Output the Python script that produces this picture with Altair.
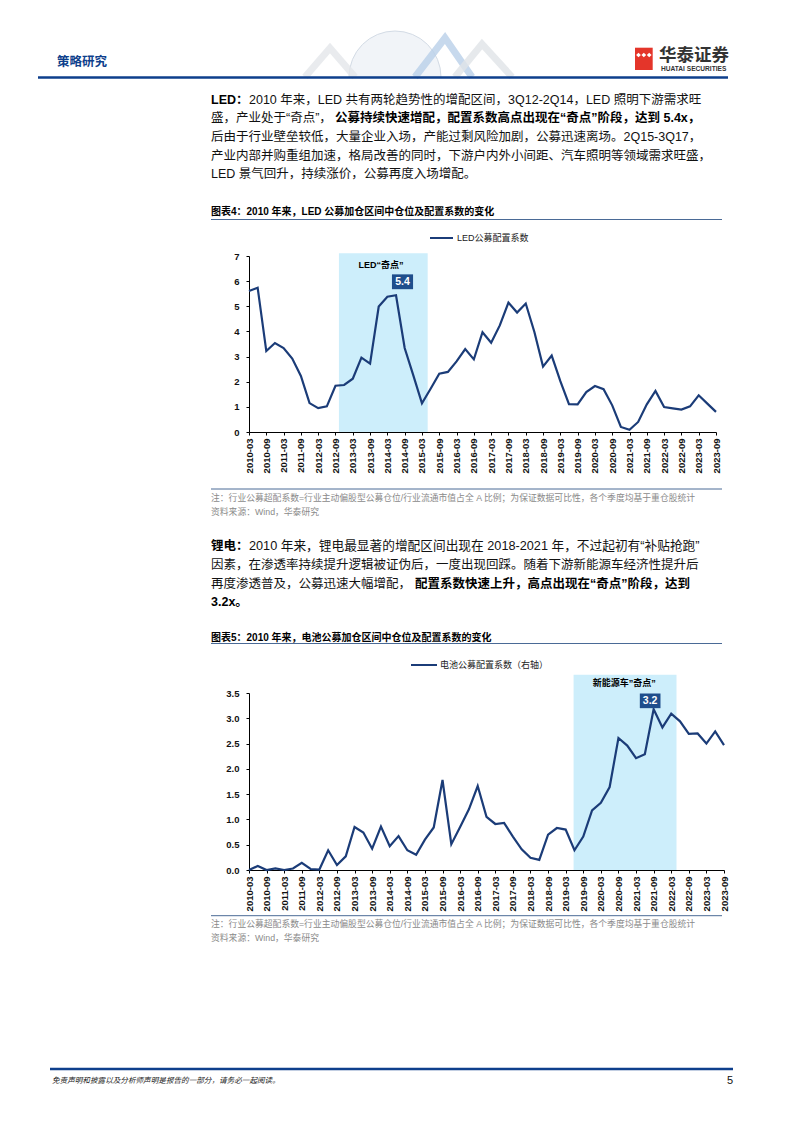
import altair as alt
import pandas as pd

# ---------------- data ----------------
quarters = [f"{y}-{m}" for y in range(2010, 2024) for m in ("03", "06", "09", "12")][:55]

led_values = [5.61, 5.74, 3.22, 3.54, 3.34, 2.92, 2.23, 1.15, 0.95, 1.02,
              1.84, 1.87, 2.12, 2.96, 2.72, 4.99, 5.38, 5.44, 3.34, 2.25,
              1.14, 1.72, 2.32, 2.39, 2.81, 3.30, 2.89, 3.97, 3.55, 4.24,
              5.15, 4.75, 5.11, 3.98, 2.60, 3.04, 2.02, 1.11, 1.10, 1.59,
              1.83, 1.70, 1.06, 0.20, 0.09, 0.40, 1.10, 1.63, 0.99, 0.94,
              0.89, 1.02, 1.46, 1.13, 0.80]

battery_values = [0.00, 0.08, 0.00, 0.03, 0.00, 0.03, 0.14, 0.02, 0.01, 0.39,
                  0.10, 0.27, 0.85, 0.74, 0.42, 0.86, 0.47, 0.67, 0.39, 0.30,
                  0.60, 0.84, 1.78, 0.51, 0.85, 1.20, 1.66, 1.05, 0.91, 0.93,
                  0.66, 0.41, 0.24, 0.20, 0.70, 0.83, 0.80, 0.39, 0.66, 1.18,
                  1.33, 1.64, 2.61, 2.46, 2.21, 2.29, 3.18, 2.82, 3.09, 2.94,
                  2.69, 2.70, 2.50, 2.74, 2.47]

led_tick_values = [0, 1, 2, 3, 4, 5, 6, 7]
bat_tick_values = [0, 0.5, 1.0, 1.5, 2.0, 2.5, 3.0, 3.5]

# shaded "奇点" periods (quarter index range) and their captions
led_band = [10.4, 20.66]
bat_band = [36.9, 48.6]
led_band_caption = "LED“奇点”"
bat_band_caption = "新能源车”奇点”"
led_peak_label = "5.4"
bat_peak_label = "3.2"

# ---------------- page text ----------------
header_title = "策略研究"
logo_cn = "华泰证券"
logo_en = "HUATAI SECURITIES"

p1_l1_bold = "LED："
p1_l1 = "2010 年来，LED 共有两轮趋势性的增配区间，3Q12-2Q14，LED 照明下游需求旺"
p1_l2 = "盛，产业处于“奇点”，"
p1_l2_bold = "公募持续快速增配，配置系数高点出现在“奇点”阶段，达到 5.4x，"
p1_l3 = "后由于行业壁垒较低，大量企业入场，产能过剩风险加剧，公募迅速离场。2Q15-3Q17，"
p1_l4 = "产业内部并购重组加速，格局改善的同时，下游户内外小间距、汽车照明等领域需求旺盛，"
p1_l5 = "LED 景气回升，持续涨价，公募再度入场增配。"

fig4_title = "图表4：2010 年来，LED 公募加仓区间中仓位及配置系数的变化"
fig4_legend = "LED公募配置系数"
note1 = "注：行业公募超配系数=行业主动偏股型公募仓位/行业流通市值占全 A 比例；为保证数据可比性，各个季度均基于重仓股统计"
note2 = "资料来源：Wind，华泰研究"

p2_l1_bold = "锂电："
p2_l1 = "2010 年来，锂电最显著的增配区间出现在 2018-2021 年，不过起初有“补贴抢跑”"
p2_l2 = "因素，在渗透率持续提升逻辑被证伪后，一度出现回踩。随着下游新能源车经济性提升后"
p2_l3 = "再度渗透普及，公募迅速大幅增配，"
p2_l3_bold = "配置系数快速上升，高点出现在“奇点”阶段，达到"
p2_l4_bold = "3.2x。"

fig5_title = "图表5：2010 年来，电池公募加仓区间中仓位及配置系数的变化"
fig5_legend = "电池公募配置系数（右轴）"

footer_text = "免责声明和披露以及分析师声明是报告的一部分，请务必一起阅读。"
page_no = "5"

# ---------------- styling / layout ----------------
OX, OY = 249, 8          # page position of the first row's origin
FONT = "Liberation Sans, Noto Sans CJK SC"
NAVY = "#1B3C78"
BAND = "#CDEEFB"
BOX = "#1F4E8C"
HEAD_BLUE = "#0E3F8C"
RULE_GRAY = "#4A6A96"
NOTE_GRAY = "#8A8A8A"
TXT = "#111111"


def text_layer(rows, weight="normal", style="normal", align="left"):
    df = pd.DataFrame(rows, columns=["text", "x", "y", "size", "color"])
    df["x"] = df["x"] - OX
    df["y"] = df["y"] - OY
    return alt.Chart(df).mark_text(
        align=align, baseline="middle", fontWeight=weight, fontStyle=style, font=FONT
    ).encode(
        x=alt.X("x:Q", scale=None),
        y=alt.Y("y:Q", scale=None),
        text="text:N",
        size=alt.Size("size:Q", scale=None, legend=None),
        color=alt.Color("color:N", scale=None, legend=None),
    )


normal_rows = [
    (p1_l1, 249, 100, 12.5, TXT),
    (p1_l2, 211, 118, 12.5, TXT),
    (p1_l3, 211, 137, 12.5, TXT),
    (p1_l4, 211, 155.5, 12.5, TXT),
    (p1_l5, 211, 174, 12.5, TXT),
    (fig4_legend, 457, 238, 9, "#222222"),
    (note1, 211, 498, 8.8, NOTE_GRAY),
    (note2, 211, 511.5, 8.8, NOTE_GRAY),
    (p2_l1, 249, 546, 12.7, TXT),
    (p2_l2, 211, 565, 12.5, TXT),
    (p2_l3, 211, 584, 12.5, TXT),
    (fig5_legend, 440, 665, 9, "#222222"),
    (note1, 211, 923.5, 8.8, NOTE_GRAY),
    (note2, 211, 938, 8.8, NOTE_GRAY),
]
bold_rows = [
    (header_title, 57, 62, 12.5, HEAD_BLUE),
    (logo_cn, 659, 56, 17.5, "#333333"),
    (logo_en, 661, 68.5, 6.6, "#333333"),
    (p1_l1_bold, 211, 100, 12.5, "#000000"),
    (p1_l2_bold, 335, 118, 12.5, "#000000"),
    (fig4_title, 211, 212, 10, "#000000"),
    (p2_l1_bold, 211, 546, 12.5, "#000000"),
    (p2_l3_bold, 415, 584, 12.5, "#000000"),
    (p2_l4_bold, 211, 602, 12.5, "#000000"),
    (fig5_title, 211, 638, 10, "#000000"),
]
italic_rows = [(footer_text, 52, 1081, 7.6, "#222222")]
right_rows = [(page_no, 733, 1081, 11, "#111111")]

# page background: pins the drawing's top-left corner to the page margin
bg_df = pd.DataFrame({"x": [8 - OX], "x2": [786 - OX], "y": [8 - OY], "y2": [1115 - OY]})
background = alt.Chart(bg_df).mark_rect(color="white").encode(
    x=alt.X("x:Q", scale=None), x2="x2:Q", y=alt.Y("y:Q", scale=None), y2="y2:Q"
)

# faint header decoration (globe + chevrons)
globe = alt.Chart(pd.DataFrame({"x": [395 - OX], "y": [77 - OY]})).mark_arc(
    radius=46, theta=4.7124, theta2=7.854, fill="#F1F4F8", stroke="#D3DBE5", strokeWidth=1
).encode(x=alt.X("x:Q", scale=None), y=alt.Y("y:Q", scale=None))
chev_df = pd.DataFrame(
    [
        ("a", 0, 305, 77), ("a", 1, 330, 48), ("a", 2, 355, 77),
        ("b", 0, 415, 77), ("b", 1, 445, 38), ("b", 2, 472, 77),
        ("c", 0, 455, 77), ("c", 1, 482, 44), ("c", 2, 512, 77),
    ],
    columns=["g", "o", "x", "y"],
)
chev_df["x"] -= OX
chev_df["y"] -= OY
chev_colors = pd.DataFrame({"g": ["a", "b", "c"], "c": ["#E3E6EA", "#B9CFE8", "#E0E3E7"]})
chev_df = chev_df.merge(chev_colors, on="g")
chevrons = alt.Chart(chev_df).mark_line(strokeWidth=7, opacity=0.8).encode(
    x=alt.X("x:Q", scale=None), y=alt.Y("y:Q", scale=None), order="o:Q", detail="g:N",
    color=alt.Color("c:N", scale=None, legend=None),
)

rule_rows = pd.DataFrame(
    [
        (38, 728, 77.5, 77.5, 2.5, HEAD_BLUE),
        (211, 722, 219.5, 219.5, 1, RULE_GRAY),
        (430, 453, 238, 238, 2, NAVY),
        (211, 722, 489, 489, 1, RULE_GRAY),
        (211, 722, 643.5, 643.5, 1, RULE_GRAY),
        (411, 437, 665, 665, 2, NAVY),
        (211, 722, 915.7, 915.7, 1, RULE_GRAY),
        (50, 733, 1069, 1069, 2.5, HEAD_BLUE),
    ],
    columns=["x", "x2", "y", "y2", "w", "c"],
)
rule_rows[["x", "x2"]] -= OX
rule_rows[["y", "y2"]] -= OY
rules = alt.Chart(rule_rows).mark_rule().encode(
    x=alt.X("x:Q", scale=None), x2="x2:Q",
    y=alt.Y("y:Q", scale=None), y2="y2:Q",
    size=alt.Size("w:Q", scale=None, legend=None),
    color=alt.Color("c:N", scale=None, legend=None),
)

logo = alt.Chart(pd.DataFrame({"x": [635 - OX], "x2": [652.7 - OX], "y": [47.7 - OY], "y2": [70 - OY]})).mark_rect(
    color="#E4352A"
).encode(x=alt.X("x:Q", scale=None), x2="x2:Q", y=alt.Y("y:Q", scale=None), y2="y2:Q")
logo_marks = alt.Chart(pd.DataFrame({"x": [638.5 - OX, 643.8 - OX, 649.2 - OX]})).mark_point(
    shape="diamond", filled=True, color="white", size=22, opacity=1
).encode(x=alt.X("x:Q", scale=None), y=alt.value(55 - OY))

page_layer = alt.layer(
    background, globe, chevrons, rules, logo, logo_marks,
    text_layer(normal_rows),
    text_layer(bold_rows, weight="bold"),
    text_layer(italic_rows, style="italic"),
    text_layer(right_rows, align="right"),
).properties(width=467, height=248)

# ---------------- charts ----------------
label_expr = "[" + ",".join(f"'{q}'" for q in quarters) + "][datum.value]"


def make_chart(values, band, band_top, caption, caption_pos, peak_label, box, y_domain, y_values,
               y_format, y_pad, width, height):
    n = len(values)
    x_scale = alt.Scale(domain=[0, n - 1], nice=False, zero=False)
    y_scale = alt.Scale(domain=y_domain, nice=False)
    x_axis = alt.Axis(
        values=list(range(0, n, 2)), labelExpr=label_expr, labelAngle=270,
        labelAlign="right", labelBaseline="middle", labelFontSize=9.5, labelFontWeight="bold",
        labelColor="#111111", labelFont="Liberation Sans", tickSize=3, labelPadding=3,
        domainColor="#000000", tickColor="#000000", grid=False, title=None, labelOverlap=False,
        labelBound=False, labelFlush=False,
    )
    y_axis = alt.Axis(
        values=y_values, format=y_format, labelFontSize=9.5, labelFontWeight="bold",
        labelColor="#111111", labelFont="Liberation Sans", tickSize=3, labelPadding=y_pad,
        domainColor="#000000", tickColor="#000000", grid=False, title=None, labelOverlap=False,
    )

    def X(f):
        return alt.X(f, scale=x_scale, axis=x_axis)

    def Y(f):
        return alt.Y(f, scale=y_scale, axis=y_axis)

    df = pd.DataFrame({"i": list(range(n)), "v": values})
    band_df = pd.DataFrame({"a": [band[0]], "b": [band[1]], "y0": [0], "y1": [band_top]})
    shade = alt.Chart(band_df).mark_rect(color=BAND).encode(x=X("a:Q"), x2="b:Q", y=Y("y0:Q"), y2="y1:Q")
    line = alt.Chart(df).mark_line(color=NAVY, strokeWidth=2.2).encode(x=X("i:Q"), y=Y("v:Q"))
    cap = alt.Chart(pd.DataFrame({"x": [caption_pos[0]], "y": [caption_pos[1]], "t": [caption]})).mark_text(
        font=FONT, fontWeight="bold", fontSize=9, color="#000000", align="center", baseline="middle"
    ).encode(x=X("x:Q"), y=Y("y:Q"), text="t:N")
    box_df = pd.DataFrame({"a": [box[0]], "b": [box[1]], "c": [box[2]], "d": [box[3]],
                           "xm": [(box[0] + box[1]) / 2], "ym": [(box[2] + box[3]) / 2], "t": [peak_label]})
    boxr = alt.Chart(box_df).mark_rect(color=BOX).encode(x=X("a:Q"), x2="b:Q", y=Y("c:Q"), y2="d:Q")
    boxt = alt.Chart(box_df).mark_text(
        font="Liberation Sans", fontWeight="bold", fontSize=10.5, color="white", align="center", baseline="middle"
    ).encode(x=X("xm:Q"), y=Y("ym:Q"), text="t:N")
    return alt.layer(shade, line, cap, boxr, boxt).properties(width=width, height=height)


led_chart = make_chart(
    led_values, led_band, 7.11, led_band_caption, (15.26, 6.63), led_peak_label,
    (16.53, 18.97, 5.68, 6.27), [0, 7], led_tick_values, "d", 7, 467, 176,
)
bat_chart = make_chart(
    battery_values, bat_band, 3.86, bat_band_caption, (42.67, 3.70), bat_peak_label,
    (44.43, 46.78, 3.20, 3.49), [0, 3.5], bat_tick_values, ".1f", 7, 475, 177,
)


def spacer(w, h):
    return alt.Chart(pd.DataFrame({"a": [0]})).mark_point(opacity=0).encode(
        x=alt.value(0), y=alt.value(0)
    ).properties(width=w, height=h)


chart = alt.vconcat(
    page_layer, led_chart, spacer(467, 261), bat_chart, spacer(467, 245),
    spacing=0, bounds="flush",
).properties(padding=0, background="white").configure_view(stroke=None)

chart.save("out.html", embed_options={"renderer": "svg", "actions": False})
